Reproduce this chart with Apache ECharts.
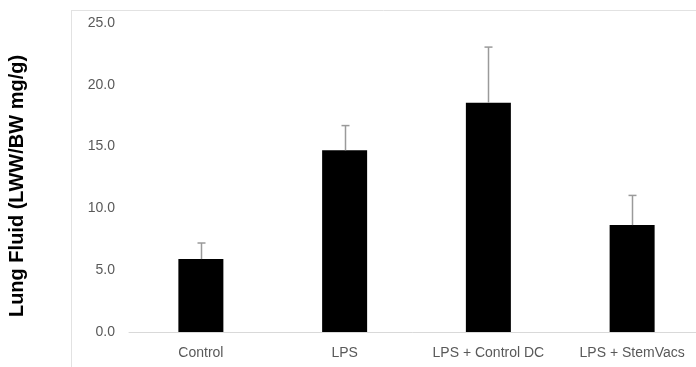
<!DOCTYPE html>
<html>
<head>
<meta charset="utf-8">
<script src="https://cdn.jsdelivr.net/npm/echarts@6/dist/echarts.min.js"></script>
<style>
html,body{margin:0;padding:0;background:#fff;}
#chart{width:696px;height:367px;}
</style>
</head>
<body>
<div id="chart"></div>
<script>
var categories = ['Control', 'LPS', 'LPS + Control DC', 'LPS + StemVacs'];
var means = [5.9, 14.7, 18.55, 8.65];
var errors = [1.3, 2.0, 4.5, 2.4];
var yTicks = [0, 5, 10, 15, 20, 25];
var yTitle = 'Lung Fluid (LWW/BW mg/g)';

var chart = echarts.init(document.getElementById('chart'), null, {renderer: 'canvas'});
var errData = categories.map(function (c, i) { return [i, means[i], means[i] + errors[i]]; });

chart.setOption({
  animation: false,
  backgroundColor: '#ffffff',
  graphic: [
    {type: 'line', shape: {x1: 71, y1: 10.5, x2: 696, y2: 10.5}, style: {stroke: '#e2e2e2', lineWidth: 1}},
    {type: 'line', shape: {x1: 71.5, y1: 10, x2: 71.5, y2: 367}, style: {stroke: '#e2e2e2', lineWidth: 1}},
    {type: 'text', x: 17, y: 186, rotation: Math.PI / 2,
     style: {text: yTitle, fill: '#000', font: 'bold 20px "Liberation Sans"', align: 'center', verticalAlign: 'middle'}}
  ],
  grid: {left: 129, width: 575, top: 23, bottom: 35, outerBoundsMode: 'none', containLabel: false},
  xAxis: {
    type: 'category',
    data: categories,
    axisLine: {show: true, lineStyle: {color: '#d9d9d9', width: 1}},
    axisTick: {show: false},
    axisLabel: {interval: 0, hideOverlap: false, color: '#595959', fontSize: 14, fontFamily: 'Liberation Sans', margin: 14}
  },
  yAxis: {
    type: 'value',
    min: 0, max: 25, interval: 5,
    axisLine: {show: false},
    axisTick: {show: false},
    splitLine: {show: false},
    axisLabel: {
      color: '#595959', fontSize: 14, fontFamily: 'Liberation Sans', margin: 14,
      formatter: function (v) { return v.toFixed(1); }
    }
  },
  series: [
    {
      type: 'bar',
      data: means,
      barWidth: 45,
      itemStyle: {color: '#000000'}
    },
    {
      type: 'custom',
      data: errData,
      z: 5,
      renderItem: function (params, api) {
        var x = api.value(0);
        var lo = api.coord([x, api.value(1)]);
        var hi = api.coord([x, api.value(2)]);
        var cx = Math.round(lo[0]) + 0.5;
        return {
          type: 'group',
          children: [
            {type: 'line', shape: {x1: cx, y1: lo[1], x2: cx, y2: hi[1]}, style: {stroke: '#9a9a9a', lineWidth: 1.5}},
            {type: 'line', shape: {x1: cx - 4, y1: hi[1], x2: cx + 4, y2: hi[1]}, style: {stroke: '#9a9a9a', lineWidth: 1.5}}
          ]
        };
      }
    }
  ]
});
</script>
</body>
</html>
